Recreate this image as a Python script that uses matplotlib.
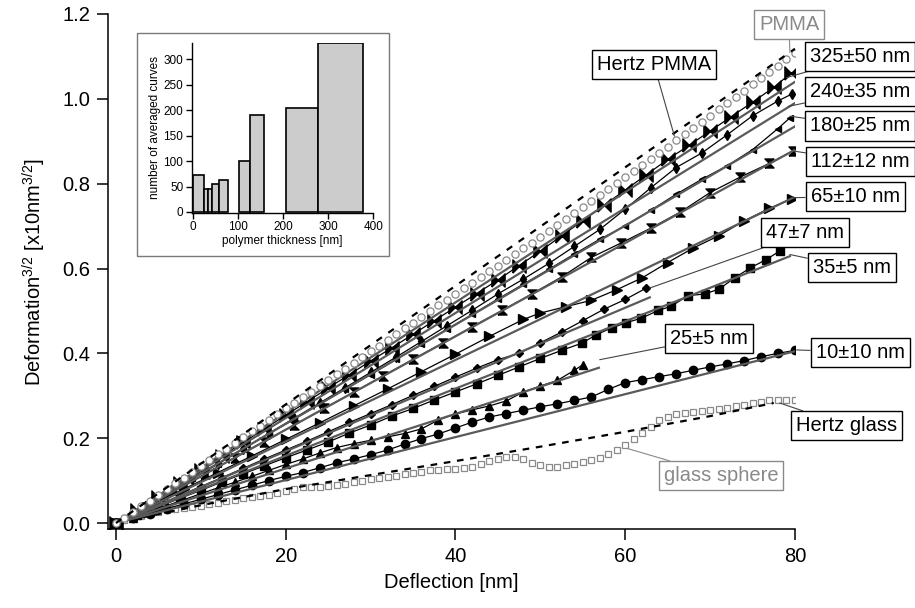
import numpy as np
import matplotlib.pyplot as plt
from matplotlib.patches import Rectangle

plt.rcParams['font.family'] = ['Liberation Sans', 'DejaVu Sans']
plt.rcParams['mathtext.default'] = 'regular'

# ---- data ----
# PMMA and glass sphere: one point per nm, 0..80
pmma_y = [0.000, 0.012, 0.026, 0.040, 0.053, 0.067, 0.080, 0.094, 0.107, 0.121, 0.135,
          0.148, 0.162, 0.175, 0.189, 0.202, 0.216, 0.229, 0.243, 0.256, 0.270,
          0.283, 0.297, 0.310, 0.324, 0.337, 0.351, 0.364, 0.378, 0.391, 0.405,
          0.418, 0.432, 0.445, 0.459, 0.472, 0.486, 0.499, 0.513, 0.526, 0.540,
          0.553, 0.567, 0.580, 0.594, 0.607, 0.621, 0.634, 0.648, 0.661, 0.675,
          0.689, 0.703, 0.717, 0.731, 0.745, 0.759, 0.773, 0.787, 0.801, 0.815,
          0.829, 0.844, 0.858, 0.873, 0.887, 0.902, 0.916, 0.931, 0.945, 0.960,
          0.975, 0.990, 1.004, 1.019, 1.034, 1.049, 1.064, 1.078, 1.093, 1.108]
glass_y = [0.000, 0.006, 0.012, 0.017, 0.022, 0.027, 0.031, 0.033, 0.035, 0.038, 0.040,
           0.044, 0.048, 0.052, 0.055, 0.058, 0.061, 0.064, 0.067, 0.071, 0.076,
           0.081, 0.084, 0.085, 0.086, 0.087, 0.089, 0.092, 0.096, 0.100, 0.103,
           0.106, 0.109, 0.112, 0.115, 0.118, 0.121, 0.124, 0.126, 0.127, 0.128,
           0.129, 0.133, 0.140, 0.147, 0.152, 0.155, 0.155, 0.150, 0.142, 0.136,
           0.133, 0.133, 0.136, 0.140, 0.145, 0.149, 0.154, 0.162, 0.172, 0.184,
           0.198, 0.212, 0.227, 0.242, 0.251, 0.256, 0.259, 0.261, 0.263, 0.266,
           0.269, 0.272, 0.275, 0.278, 0.282, 0.286, 0.289, 0.291, 0.290, 0.289]
grid_x = np.arange(len(pmma_y))

hertz_pmma_x = [0, 80]
hertz_pmma_y = [0.0, 1.118]
hertz_glass_x = [0, 10, 20, 30, 40, 50, 60, 70, 77.5]
hertz_glass_y = [0.0, 0.042, 0.080, 0.113, 0.146, 0.180, 0.215, 0.252, 0.283]

x325 = [0, 2.5, 5, 7.5, 10, 12.5, 15, 17.5, 20, 22.5, 25, 27.5, 30, 32.5, 35, 37.5, 40,
        42.5, 45, 47.5, 50, 52.5, 55, 57.5, 60, 62.5, 65, 67.5, 70, 72.5, 75, 77.5, 79.5]
y325 = [0, 0.030, 0.062, 0.094, 0.126, 0.158, 0.190, 0.222, 0.254, 0.286, 0.318, 0.350,
        0.382, 0.413, 0.445, 0.477, 0.509, 0.541, 0.573, 0.607, 0.641, 0.677, 0.713, 0.749,
        0.785, 0.821, 0.857, 0.890, 0.924, 0.958, 0.992, 1.027, 1.060]

x240 = [0, 3, 6, 9, 12, 15, 18, 21, 24, 27, 30, 33, 36, 39, 42, 45, 48, 51, 54, 57, 60,
        63, 66, 69, 72, 75, 78, 79.6]
y240 = [0, 0.034, 0.069, 0.104, 0.139, 0.175, 0.211, 0.247, 0.283, 0.319, 0.355, 0.391,
        0.428, 0.465, 0.502, 0.540, 0.575, 0.612, 0.652, 0.692, 0.740, 0.790, 0.838, 0.872,
        0.915, 0.960, 0.995, 1.011]

x180 = [0, 3, 6, 9, 12, 15, 18, 21, 24, 27, 30, 33, 36, 39, 42, 45, 48, 51, 54, 57, 60,
        63, 66, 69, 72, 75, 78, 79.4]
y180 = [0, 0.035, 0.070, 0.105, 0.140, 0.175, 0.210, 0.245, 0.280, 0.315, 0.350, 0.386,
        0.421, 0.457, 0.492, 0.528, 0.563, 0.598, 0.634, 0.669, 0.700, 0.737, 0.775, 0.810,
        0.842, 0.880, 0.930, 0.955]

x112 = [0, 3.5, 7, 10.5, 14, 17.5, 21, 24.5, 28, 31.5, 35, 38.5, 42, 45.5, 49, 52.5, 56,
        59.5, 63, 66.5, 70, 73.5, 77, 79.8]
y112 = [0, 0.038, 0.077, 0.115, 0.154, 0.192, 0.231, 0.270, 0.308, 0.347, 0.386, 0.424,
        0.463, 0.501, 0.540, 0.580, 0.626, 0.660, 0.695, 0.733, 0.779, 0.815, 0.848, 0.877]

x65 = [0, 4, 8, 12, 16, 20, 24, 28, 32, 36, 40, 44, 48, 50, 53, 56, 59, 62, 65, 68, 71,
       74, 77, 79.6]
y65 = [0, 0.040, 0.080, 0.119, 0.158, 0.197, 0.236, 0.276, 0.316, 0.357, 0.398, 0.440,
       0.480, 0.495, 0.510, 0.525, 0.550, 0.578, 0.614, 0.648, 0.677, 0.712, 0.742, 0.764]

x47 = [0, 2.5, 5, 7.5, 10, 12.5, 15, 17.5, 20, 22.5, 25, 27.5, 30, 32.5, 35, 37.5, 40,
       42.5, 45, 47.5, 50, 52.5, 55, 57.5, 60, 62.5]
y47 = [0, 0.021, 0.043, 0.064, 0.086, 0.107, 0.129, 0.151, 0.172, 0.193, 0.215, 0.237,
       0.258, 0.279, 0.301, 0.322, 0.344, 0.365, 0.385, 0.400, 0.425, 0.450, 0.477, 0.504,
       0.527, 0.554]

x35 = [0, 2.5, 5, 7.5, 10, 12.5, 15, 17.5, 20, 22.5, 25, 27.5, 30, 32.5, 35, 37.5, 40,
       42.5, 45, 47.5, 50, 52.5, 54.9, 56.6, 58.4, 60.1, 61.9, 63.9, 65.4, 67.4, 69.4,
       71.1, 72.9, 74.7, 76.6, 78.2]
y35 = [0, 0.019, 0.038, 0.058, 0.077, 0.097, 0.116, 0.135, 0.154, 0.172, 0.191, 0.212,
       0.231, 0.252, 0.270, 0.290, 0.309, 0.328, 0.348, 0.368, 0.388, 0.407, 0.424, 0.444,
       0.460, 0.472, 0.483, 0.501, 0.511, 0.536, 0.540, 0.552, 0.578, 0.601, 0.621, 0.641]

x25 = [0, 2, 4, 6, 8, 10, 12, 14, 16, 18, 20, 22, 24, 26, 28, 30, 32, 34, 36, 38, 40, 42,
       44, 46, 48, 50, 52, 54, 55]
y25 = [0, 0.013, 0.027, 0.041, 0.055, 0.069, 0.083, 0.096, 0.110, 0.124, 0.138, 0.151,
       0.165, 0.178, 0.187, 0.195, 0.203, 0.211, 0.222, 0.243, 0.257, 0.267, 0.276, 0.288,
       0.309, 0.323, 0.336, 0.360, 0.373]

x10 = [0, 2, 4, 6, 8, 10, 12, 14, 16, 18, 20, 22, 24, 26, 28, 30, 32, 34, 36, 38, 40,
       42, 44, 46, 48, 50, 52, 54, 56, 58, 60, 62, 64, 66, 68, 70, 72, 74, 76, 78, 80]
y10 = [0.000, 0.011, 0.022, 0.034, 0.045, 0.056, 0.067, 0.078, 0.089, 0.100, 0.110,
       0.119, 0.130, 0.142, 0.151, 0.161, 0.172, 0.186, 0.199, 0.210, 0.224, 0.238,
       0.250, 0.258, 0.266, 0.274, 0.281, 0.289, 0.297, 0.315, 0.331, 0.338, 0.345,
       0.352, 0.360, 0.368, 0.375, 0.383, 0.392, 0.400, 0.407]

# straight gray fits (from origin to end point)
fit_end_x = [80, 80, 80, 80, 79.8, 62.9, 79.4, 56.9, 80]
fit_end_y = [1.04, 0.99, 0.935, 0.88, 0.767, 0.532, 0.629, 0.366, 0.405]

# inset histogram
bin_left = [0, 24, 33, 42, 57, 102, 127, 207, 278]
bin_right = [24, 33, 42, 57, 78, 127, 158, 278, 378]
bin_count = [72, 45, 46, 55, 63, 101, 191, 205, 331]

# ---- markers ----
bowtie = [(-1, -1), (1, 1), (1, -1), (-1, 1), (-1, -1)]
hourglass = [(-1, -1), (1, 1), (-1, 1), (1, -1), (-1, -1)]

fig = plt.figure(figsize=(9.15, 6.08), dpi=100)
ax = fig.add_axes([0.118, 0.130, 0.7508, 0.847])

gray_mk = '#8a8a8a'
ax.plot(grid_x, glass_y, ls='none', marker='s', ms=4.5, mfc='white', mec=gray_mk, mew=0.9, zorder=3)
ax.plot(hertz_glass_x, hertz_glass_y, color='black', ls=(0, (3, 3)), lw=1.6, zorder=4)

series = [
    (x325, y325, bowtie, 9.5),
    (x240, y240, 'd', 5.5),
    (x180, y180, '<', 4.5),
    (x112, y112, hourglass, 6.5),
    (x65, y65, '>', 6.5),
    (x47, y47, 'D', 4.5),
    (x35, y35, 's', 5.5),
    (x25, y25, '^', 6),
    (x10, y10, 'o', 6),
]
for xs, ys, mk, ms in series:
    ax.plot(xs, ys, color='black', lw=0.9, marker=mk, ms=ms, mfc='black', mec='black', zorder=3)

for fx, fy in zip(fit_end_x, fit_end_y):
    ax.plot([0, fx], [0, fy], color='#5a5a5a', lw=1.6, zorder=4)

ax.plot(grid_x, pmma_y, ls='none', marker='o', ms=5.2, mfc='white', mec=gray_mk, mew=0.9, zorder=5)
ax.plot(hertz_pmma_x, hertz_pmma_y, color='black', ls=(0, (3, 3.5)), lw=1.6, zorder=5)

ax.set_xlim(-0.94, 80)
ax.set_ylim(-0.014, 1.2)
ax.set_xticks([0, 20, 40, 60, 80])
ax.set_yticks([0.0, 0.2, 0.4, 0.6, 0.8, 1.0, 1.2])
ax.set_yticklabels(['0.0', '0.2', '0.4', '0.6', '0.8', '1.0', '1.2'])
for s in ['top', 'right']:
    ax.spines[s].set_visible(False)
for s in ['left', 'bottom']:
    ax.spines[s].set_linewidth(1.1)
ax.tick_params(direction='out', length=8, width=1.1, labelsize=14.5, pad=5)
ax.set_xlabel('Deflection [nm]', fontsize=14.5, labelpad=5)
ax.set_ylabel('Deformation$^{3/2}$ [x10nm$^{3/2}$]', fontsize=14.5, labelpad=10)
ax.patch.set_alpha(0)

# ---- annotations ----
def label(text, box_xy, tip_xy, col='black', lcol='#444444'):
    ax.annotate(text, xy=tip_xy, xytext=box_xy, textcoords='data', xycoords='data',
                ha='center', va='center', fontsize=14.5, color=col, annotation_clip=False,
                bbox=dict(boxstyle='square,pad=0.25', fc='white', ec=col, lw=1.0),
                arrowprops=dict(arrowstyle='-', color=lcol, lw=0.8, shrinkA=0, shrinkB=0),
                zorder=10)

label('PMMA', (79.3, 1.176), (79.4, 1.109), col='#8a8a8a', lcol='#8a8a8a')
label('Hertz PMMA', (63.4, 1.080), (65.8, 0.912))
label('325±50 nm', (87.7, 1.100), (79.0, 1.050))
label('240±35 nm', (87.7, 1.018), (79.2, 0.982))
label('180±25 nm', (87.7, 0.936), (79.4, 0.959))
label('112±12 nm', (87.7, 0.853), (79.8, 0.877))
label('65±10 nm', (87.1, 0.769), (79.6, 0.767))
label('47±7 nm', (81.2, 0.684), (62.9, 0.554))
label('35±5 nm', (86.7, 0.602), (79.4, 0.633))
label('25±5 nm', (69.9, 0.436), (57.0, 0.385))
label('10±10 nm', (87.7, 0.403), (80.2, 0.408))
label('Hertz glass', (86.1, 0.229), (78.2, 0.283))
label('glass sphere', (71.3, 0.111), (60.2, 0.176), col='#8a8a8a', lcol='#8a8a8a')

# ---- inset ----
fig.add_artist(Rectangle((0.1497, 0.579), 0.2754, 0.3668, transform=fig.transFigure,
                         fc='white', ec='#7a7a7a', lw=1.0, zorder=1))
axi = fig.add_axes([0.2095, 0.6497, 0.1985, 0.2796], zorder=2)
widths = np.array(bin_right) - np.array(bin_left)
axi.bar(bin_left, bin_count, width=widths, align='edge', color='#cccccc',
        edgecolor='black', lw=1.2)
axi.set_xlim(-3, 400)
axi.set_ylim(-2, 332)
axi.set_xticks([0, 100, 200, 300, 400])
axi.set_yticks([0, 50, 100, 150, 200, 250, 300])
for s in ['top', 'right']:
    axi.spines[s].set_visible(False)
for s in ['left', 'bottom']:
    axi.spines[s].set_linewidth(1.0)
axi.tick_params(direction='out', length=4, width=1.0, labelsize=8.5, pad=2)
axi.set_xlabel('polymer thickness [nm]', fontsize=8.5, labelpad=1)
axi.set_ylabel('number of averaged curves', fontsize=8.5, labelpad=2)
axi.patch.set_alpha(0)

fig.savefig('out.png', dpi=100)
